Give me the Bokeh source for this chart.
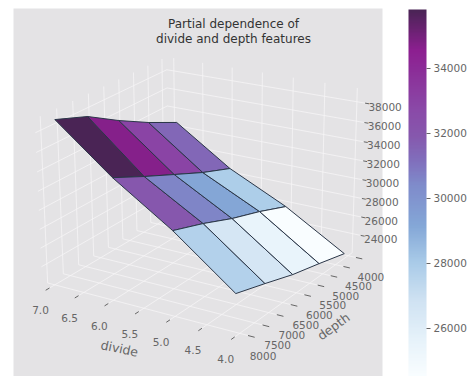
import numpy as np
from bokeh.plotting import figure
from bokeh.models import Range1d, ColumnDataSource, LinearColorMapper, ColorBar, FixedTicker
from bokeh.embed import file_html
from bokeh.resources import INLINE

# ---- data
divide = [6.88, 5.96, 5.02, 4.06]
depth = [8000, 7000, 6000, 5000, 4000]
pd_row_1 = [39354, 38090, 36091, 34296, 32713]
pd_row_2 = [34675, 33059, 31535, 30023, 28744]
pd_row_3 = [30678, 29521, 28185, 27089, 25809]
pd_row_4 = [25848, 24818, 23734, 22912, 22035]
divide_ticks = [7.0, 6.5, 6.0, 5.5, 5.0, 4.5, 4.0]
depth_ticks = [8000, 7500, 7000, 6500, 6000, 5500, 5000, 4500, 4000]
z_ticks = [38000, 36000, 34000, 32000, 30000, 28000, 26000, 24000]
cbar_ticks = [26000, 28000, 30000, 32000, 34000]
cbar_low, cbar_high = 24523, 35815
title_lines = ["Partial dependence of", "divide and depth features"]

# ---- 3D axes box and camera of the view
X0, X1, Y0, Y1, Z0, Z1 = 3.875, 7.125, 3833, 8167, 21900, 39400
CAM = np.array([[-52.72057582639102, -30.84610649843067, -0.48602536933936985, 677.4818913283393],
                [-7.985190162867143, 11.720238091112307, -9.225736086758575, 431.32074362440716],
                [0.021631274306368166, -0.020591029152136894, -0.0021569662451882596, 1.0]])

def proj(x, y, z):
    h = CAM @ np.array([x, y / 1000, z / 1000, 1.0])
    return float(h[0] / h[2]), float(h[1] / h[2])

def seg(a, b):
    pa, pb = proj(*a), proj(*b)
    return [pa[0], pb[0]], [pa[1], pb[1]]

# colour ramp as it looks in the picture, light to dark, 256 steps
ramp_pos = [0, .10, .207, .31, .41, .52, .585, .656, .727, .89, 1.0]
ramp_col = ["#f9fdff", "#e6f2fa", "#cfe2f2", "#a9cbe8", "#84a7d7", "#7f8ccb",
            "#8070bd", "#8658ad", "#8a4aa8", "#8c1f90", "#4a2455"]
anchors = np.array([[int(c[i:i + 2], 16) for i in (1, 3, 5)] for c in ramp_col], float)
t = np.linspace(0, 1, 256)
ramp = np.stack([np.interp(t, ramp_pos, anchors[:, k]) for k in range(3)], axis=1)
palette = ["#%02x%02x%02x" % tuple(int(round(v)) for v in row) for row in ramp]

W, H = 471, 376
p = figure(width=W, height=H, output_backend="svg", toolbar_location=None,
           x_range=Range1d(0, W), y_range=Range1d(H, 0),
           min_border=0, outline_line_color=None, background_fill_color="white",
           border_fill_color="white")
p.xaxis.visible = False
p.yaxis.visible = False
p.grid.visible = False

PANEL = "#e4e3e5"
p.quad(left=[13], right=[382], top=[8], bottom=[H], fill_color=PANEL, line_color=None)

# grid
gx, gy = [], []
for d in divide_ticks:
    a, b = seg((d, Y0, Z0), (d, Y1, Z0)); gx.append(a); gy.append(b)
    a, b = seg((d, Y0, Z0), (d, Y0, Z1)); gx.append(a); gy.append(b)
for y in depth_ticks:
    a, b = seg((X0, y, Z0), (X1, y, Z0)); gx.append(a); gy.append(b)
    a, b = seg((X1, y, Z0), (X1, y, Z1)); gx.append(a); gy.append(b)
for z in z_ticks:
    a, b = seg((X1, Y1, z), (X1, Y0, z)); gx.append(a); gy.append(b)
    a, b = seg((X1, Y0, z), (X0, Y0, z)); gx.append(a); gy.append(b)
p.multi_line(gx, gy, line_color="#f7f6f7", line_width=1, line_alpha=0.75)

# tick marks
tx, ty = [], []
for d in divide_ticks:
    a, b = seg((d, Y1, Z0), (d, Y1 + 120, Z0)); tx.append(a); ty.append(b)
for y in depth_ticks:
    a, b = seg((X0, y, Z0), (X0 - 0.1, y, Z0)); tx.append(a); ty.append(b)
for z in z_ticks:
    a, b = seg((X0, Y0, z), (X0 - 0.06, Y0, z)); tx.append(a); ty.append(b)
p.multi_line(tx, ty, line_color="#666666", line_width=1)

# surface
rows = [pd_row_1, pd_row_2, pd_row_3, pd_row_4]
mapper = LinearColorMapper(palette=palette, low=cbar_low, high=cbar_high)
xs, ys, vals = [], [], []
for i in range(len(divide) - 1):
    for j in range(len(depth) - 1):
        c = [(i, j), (i, j + 1), (i + 1, j + 1), (i + 1, j)]
        q = [proj(divide[a], depth[b], rows[a][b]) for a, b in c]
        xs.append([s[0] for s in q]); ys.append([s[1] for s in q])
        vals.append(sum(rows[a][b] for a, b in c) / 4)
p.patches("x", "y", source=ColumnDataSource(dict(x=xs, y=ys, v=vals)),
          fill_color={"field": "v", "transform": mapper},
          line_color="#2a3648", line_width=1)

# tick labels
def labels(items, dx, dy, size="10.5px", color="#666666"):
    px = [proj(*w)[0] + dx for w, _ in items]
    py = [proj(*w)[1] + dy for w, _ in items]
    p.text(px, py, text=[s for _, s in items], text_font_size=size, text_color=color,
           text_align="center", text_baseline="middle", text_font={"value": "DejaVu Sans"})

labels([((d, Y1, Z0), f"{d:.1f}") for d in divide_ticks], -9, 22)
labels([((X0, y, Z0), str(y)) for y in depth_ticks], 15, 20)
labels([((X0, Y0, z), str(z)) for z in z_ticks], 20, 3.5)

p.text([119], [348], text=["divide"], angle=[np.deg2rad(-12)], text_font_size="12.5px", text_color="#666666",
       text_align="center", text_baseline="middle", text_font={"value": "DejaVu Sans"})
p.text([333], [326], text=["depth"], angle=[np.deg2rad(36)], text_font_size="12.5px", text_color="#666666",
       text_align="center", text_baseline="middle", text_font={"value": "DejaVu Sans"})

p.text([233, 233], [23, 38], text=title_lines, text_font_size="12px", text_color="#333333",
       text_align="center", text_baseline="middle", text_font={"value": "DejaVu Sans"})

cb = ColorBar(color_mapper=mapper, ticker=FixedTicker(ticks=cbar_ticks), width=18, height=367,
              location=(408, 0), padding=0, margin=0, background_fill_alpha=0, bar_line_color=None,
              major_tick_in=0, major_tick_out=4, major_tick_line_color="#666666",
              major_label_text_font="DejaVu Sans", major_label_text_font_size="10.5px",
              major_label_text_color="#666666", label_standoff=3, border_line_color=None)
p.add_layout(cb)

open("out.html", "w").write(file_html(p, INLINE))
